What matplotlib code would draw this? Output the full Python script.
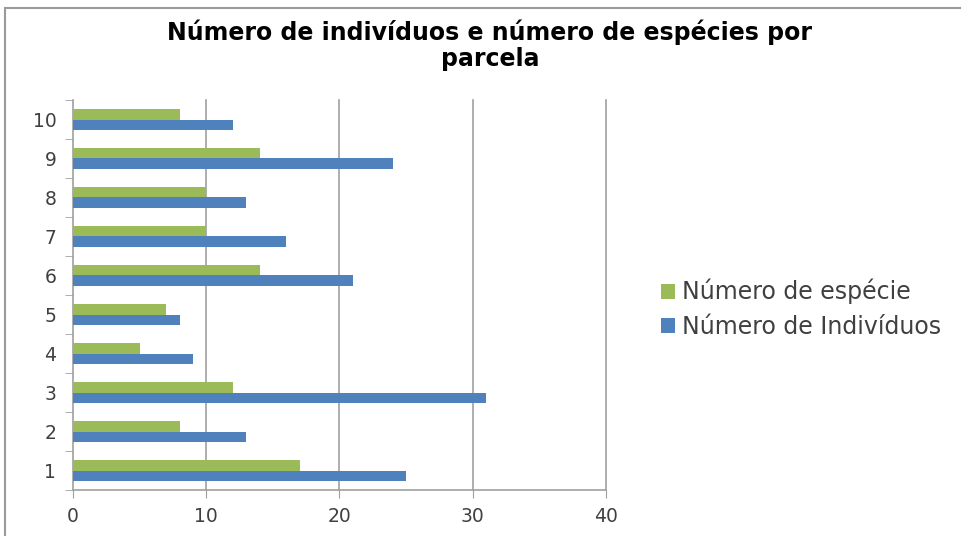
import numpy as np
import matplotlib.pyplot as plt
from matplotlib.patches import Rectangle

# parcelas 1..10
parcelas = ['1', '2', '3', '4', '5', '6', '7', '8', '9', '10']
especies = [17, 8, 12, 5, 7, 14, 10, 10, 14, 8]
individuos = [25, 13, 31, 9, 8, 21, 16, 13, 24, 12]
xticks = [0, 10, 20, 30, 40]

GREEN = '#9BBB59'
BLUE = '#4F81BD'
TXT = '#404040'
GRID = '#a0a0a0'

fig = plt.figure(figsize=(9.62, 5.36), dpi=100)
# outer chart border (cropped on right/bottom)
fig.patches.append(Rectangle((5/962, -0.05), 1.0, 1 - 8/536 + 0.05,
                             transform=fig.transFigure, fill=False,
                             edgecolor='#9a9a9a', linewidth=1.5))

ax = fig.add_axes([73/962, 46/536, (606-73)/962, (490-100)/536])
y = np.arange(len(parcelas))
h = 0.28
ax.barh(y + h/2, especies, height=h, color=GREEN, label='Número de espécie', zorder=3)
ax.barh(y - h/2, individuos, height=h, color=BLUE, label='Número de Indivíduos', zorder=3)

ax.set_xlim(0, 40)
ax.set_ylim(-0.5, len(parcelas) - 0.5)
ax.set_xticks(xticks)
ax.set_yticks(y)
ax.set_yticklabels(parcelas)
ax.set_yticks(np.arange(len(parcelas) + 1) - 0.5, minor=True)
ax.tick_params(axis='y', which='major', length=0, pad=12, labelsize=13.5, labelcolor=TXT)
ax.tick_params(axis='y', which='minor', length=6, color=GRID)
ax.tick_params(axis='x', length=6, color=GRID, labelsize=13.5, labelcolor=TXT, pad=6)
for xv in xticks[1:]:
    ax.axvline(xv, color=GRID, linewidth=1.2, zorder=0, clip_on=False)
for s in ['top', 'right']:
    ax.spines[s].set_visible(False)
for s in ['left', 'bottom']:
    ax.spines[s].set_color(GRID)
    ax.spines[s].set_linewidth(1.2)

fig.text(490/962, 1 - 45/536, 'Número de indivíduos e número de espécies por\nparcela',
         ha='center', va='center', fontsize=17, fontweight='bold', linespacing=1.1)

handles, labels = ax.get_legend_handles_labels()
fig.legend(handles, labels, loc='center left', bbox_to_anchor=(640/962, 1 - 309/536),
           frameon=False, fontsize=17, handlelength=0.6, handleheight=0.6,
           handletextpad=0.3, labelspacing=0.45, labelcolor=TXT)

fig.savefig('out.png', dpi=100)
